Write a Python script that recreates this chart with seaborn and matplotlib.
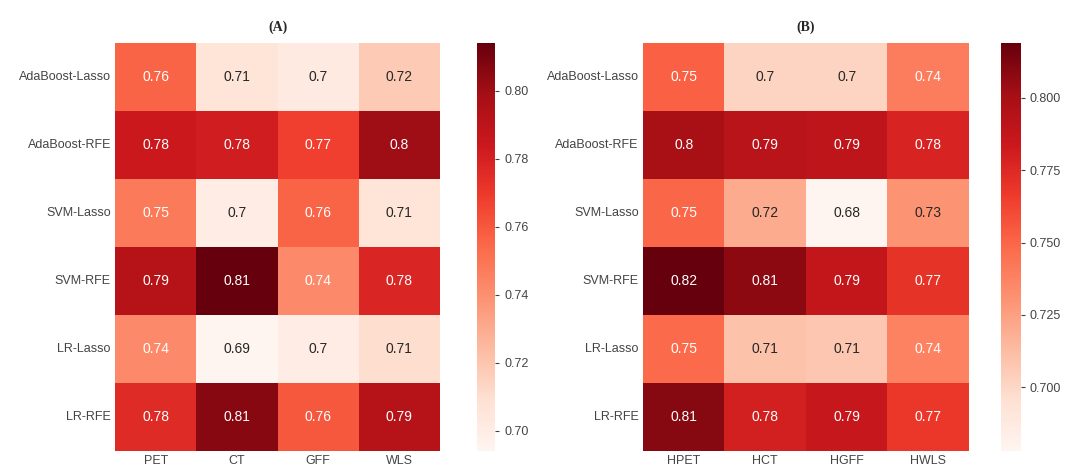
import numpy as np
import pandas as pd
import seaborn as sns
import matplotlib.pyplot as plt

sns.set_theme(style="white")
plt.rcParams['font.family'] = ['Liberation Sans', 'DejaVu Sans']

# filas y columnas
modelos = ["AdaBoost-Lasso", "AdaBoost-RFE", "SVM-Lasso", "SVM-RFE", "LR-Lasso", "LR-RFE"]
cols_a = ["PET", "CT", "GFF", "WLS"]
cols_b = ["HPET", "HCT", "HGFF", "HWLS"]

# valores (A)
pet = [0.756, 0.784, 0.748, 0.792, 0.742, 0.776]
ct = [0.706, 0.782, 0.700, 0.814, 0.694, 0.806]
gff = [0.702, 0.768, 0.756, 0.742, 0.700, 0.760]
wls = [0.718, 0.800, 0.706, 0.778, 0.710, 0.792]

# valores (B)
hpet = [0.752, 0.800, 0.750, 0.819, 0.748, 0.810]
hct = [0.702, 0.792, 0.720, 0.808, 0.710, 0.780]
hgff = [0.702, 0.790, 0.678, 0.788, 0.708, 0.786]
hwls = [0.740, 0.778, 0.730, 0.770, 0.738, 0.768]

df_a = pd.DataFrame({"PET": pet, "CT": ct, "GFF": gff, "WLS": wls}, index=modelos)
df_b = pd.DataFrame({"HPET": hpet, "HCT": hct, "HGFF": hgff, "HWLS": hwls}, index=modelos)

fig = plt.figure(figsize=(10.67, 4.69), dpi=100)
ax_a = fig.add_axes([0.1078, 0.0384, 0.3046, 0.870])
cb_a = fig.add_axes([0.447, 0.0384, 0.0169, 0.870])
ax_b = fig.add_axes([0.6026, 0.0384, 0.3055, 0.870])
cb_b = fig.add_axes([0.938, 0.0384, 0.0185, 0.870])

for ax, cax, df, titulo in [(ax_a, cb_a, df_a, "(A)"), (ax_b, cb_b, df_b, "(B)")]:
    sns.heatmap(df, annot=True, fmt=".2g", cmap="Reds", ax=ax, cbar_ax=cax,
                annot_kws={"fontsize": 10})
    ax.set_title(titulo, fontsize=10, fontweight="bold", family=["Liberation Serif", "DejaVu Serif"], pad=9)
    ax.tick_params(axis="both", length=0, labelsize=9, colors="#444444", pad=3)
    ax.set_yticklabels(ax.get_yticklabels(), rotation=0)
    cax.tick_params(labelsize=9, colors="#444444", length=3, width=0.8)

cb_a.set_yticks([0.70, 0.72, 0.74, 0.76, 0.78, 0.80])
cb_a.set_yticklabels(["0.70", "0.72", "0.74", "0.76", "0.78", "0.80"])
cb_b.set_yticks([0.700, 0.725, 0.750, 0.775, 0.800])
cb_b.set_yticklabels(["0.700", "0.725", "0.750", "0.775", "0.800"])

fig.savefig("out.png", dpi=100)
